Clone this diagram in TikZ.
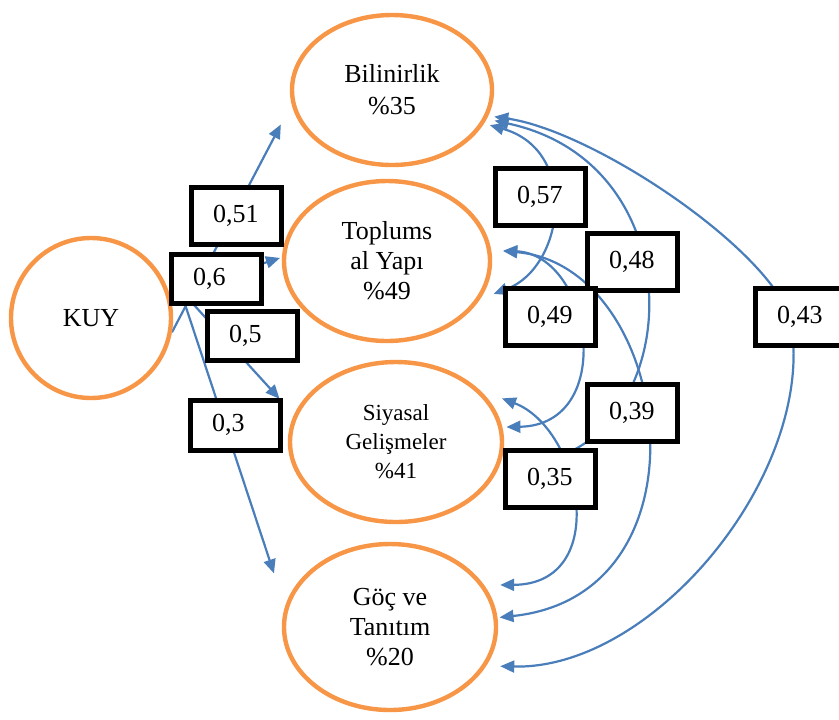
\documentclass[tikz,border=0pt]{standalone}
\usepackage{fontspec}
\setmainfont{Liberation Serif}
\usetikzlibrary{arrows.meta,shapes.geometric,backgrounds}
\definecolor{fakorange}{HTML}{F79646}
\definecolor{yolblue}{HTML}{4A7EBB}
\tikzset{
	factor/.style={ellipse, draw=fakorange, line width=2.2pt, inner sep=0pt, align=center, font=\fontsize{13}{15}\selectfont},
	lbl/.style={draw, line width=2.5pt, fill=white, text width=23pt, inner xsep=11pt, inner ysep=0pt, minimum height=28.5pt, align=left, font=\fontsize{13}{15}\selectfont},
	yol/.style={draw=yolblue, line width=1.1pt, -{Triangle[length=7pt,width=6pt]}},
	ilis/.style={draw=yolblue, line width=1.1pt, {Triangle[length=7pt,width=6pt]}-{Triangle[length=7pt,width=6pt]}}
}
\begin{document}
\begin{tikzpicture}[x=0.5pt, y=-0.5pt]
	\useasboundingbox (0,0) rectangle (839,719);
	% faktorler
	\node[circle, draw=fakorange, line width=2.2pt, minimum size=80pt, inner sep=0pt, font=\fontsize{13}{15}\selectfont] (KUY) at (91,318) {KUY};
	\node[factor, minimum width=100pt, minimum height=75pt, font=\fontsize{13}{16}\selectfont] (Bil) at (392,90) {Bilinirlik\\\%35};
	\node[factor, minimum width=103pt, minimum height=80pt] (Top) at (387,261) {Toplums\\al Yapı\\\%49};
	\node[factor, minimum width=106pt, minimum height=80pt, font=\fontsize{11.5}{14.5}\selectfont] (Siy) at (396,442) {Siyasal\\Gelişmeler\\\%41};
	\node[factor, minimum width=106pt, minimum height=83pt] (Goc) at (390,627) {Göç ve\\Tanıtım\\\%20};
	% katsayilar
	\node[lbl] (l51) at (236,216) {0,51};
	\node[lbl, minimum height=24.5pt] (l6) at (216,279) {0,6};
	\node[lbl, minimum height=24.5pt] (l5) at (252,336) {0,5};
	\node[lbl, minimum height=25pt] (l3) at (235,425) {0,3};
	\node[lbl] (l57) at (540,197) {0,57};
	\node[lbl] (l48) at (632,262) {0,48};
	\node[lbl] (l49) at (550,317) {0,49};
	\node[lbl] (l43) at (800,317) {0,43};
	\node[lbl] (l39) at (632,413) {0,39};
	\node[lbl] (l35) at (550,479) {0,35};
	\begin{scope}[on background layer]
		% KUY -> faktorler
		\draw[yol, shorten >=11.5pt] (KUY.-10) -- (Bil.188);
		\draw[yol, shorten <=3pt, shorten >=1pt] ([xshift=6pt]KUY.20) -- (Top.178);
		\draw[yol, shorten <=3pt, shorten >=10.7pt] ([xshift=6pt]KUY.20) -- (Siy.165);
		\draw[yol, shorten <=3pt, shorten >=17.5pt] ([xshift=6pt]KUY.20) -- (Goc.169);
		% korelasyonlar
		\draw[ilis, shorten <=7pt, shorten >=3pt] (Top.-22) .. controls +(84,-31) and +(96,27) .. (Bil.-20);
		\draw[ilis, shorten <=3pt, shorten >=4pt] (Siy.-12) .. controls +(182,-4) and +(220,47) .. (Bil.-17);
		\draw[ilis, shorten <=7pt, shorten >=3pt] (Goc.-22) .. controls +(170,4) and +(30,150) .. ([xshift=-5pt]l43.center) .. controls +(-26,-72) and +(104,15) .. (Bil.-15);
		\draw[ilis, shorten <=6pt, shorten >=2pt] (Top.6) .. controls +(101,5) and +(115,-2) .. (Siy.8);
		\draw[ilis, shorten <=6pt, shorten >=1pt] (Top.6) .. controls +(181,15) and +(220,-23) .. (Goc.5);
		\draw[ilis, shorten <=12pt, shorten >=8pt] (Siy.32) .. controls +(102,39) and +(128,-1) .. (Goc.24);
	\end{scope}
\end{tikzpicture}
\end{document}
